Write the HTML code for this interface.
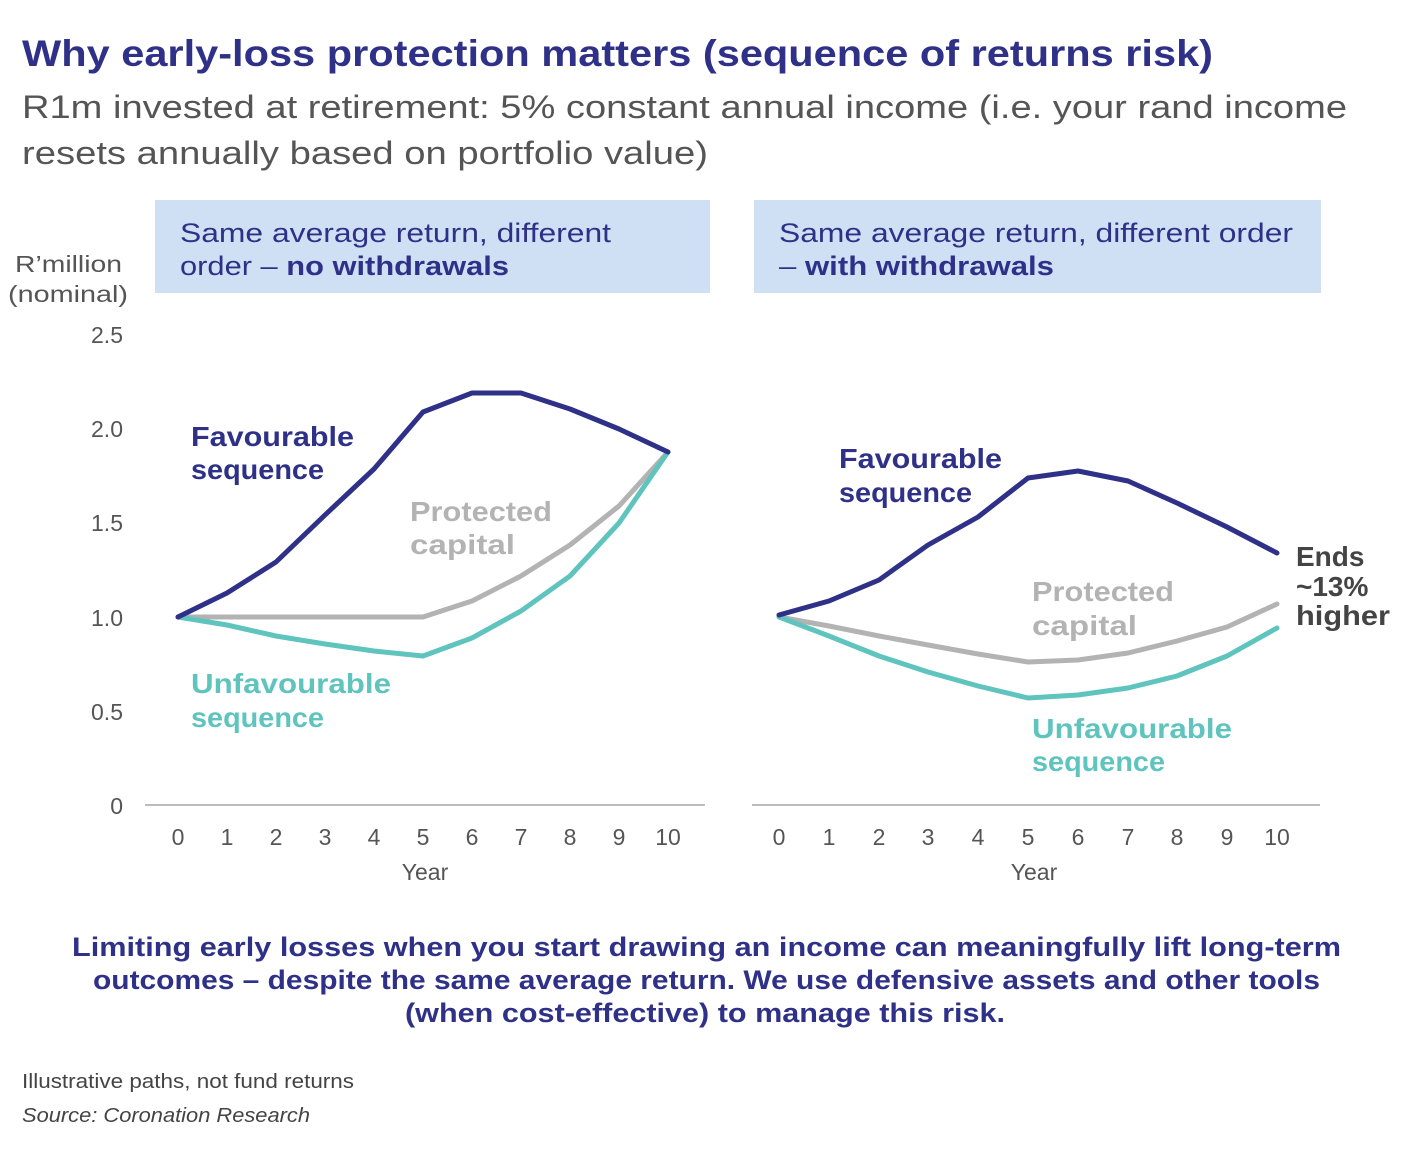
<!DOCTYPE html>
<html><head><meta charset="utf-8"><style>
body{margin:0;background:#fff;width:1416px;height:1160px;overflow:hidden;font-family:"Liberation Sans",sans-serif;}
</style></head><body>
<svg width="1416" height="1160" xmlns="http://www.w3.org/2000/svg" font-family="Liberation Sans, sans-serif">
<text x="22" y="66" font-size="37" font-weight="bold" fill="#2e3187" textLength="1191" lengthAdjust="spacingAndGlyphs">Why early-loss protection matters (sequence of returns risk)</text>
<text x="22" y="118" font-size="32" fill="#555" textLength="1325" lengthAdjust="spacingAndGlyphs">R1m invested at retirement: 5% constant annual income (i.e. your rand income</text>
<text x="22" y="164" font-size="32" fill="#555" textLength="686" lengthAdjust="spacingAndGlyphs">resets annually based on portfolio value)</text>
<rect x="155" y="200" width="555" height="93" fill="#cfe0f5"/>
<rect x="754" y="200" width="567" height="93" fill="#cfe0f5"/>
<g font-size="27" fill="#2e3187">
<text x="180" y="242" textLength="431" lengthAdjust="spacingAndGlyphs">Same average return, different</text>
<text x="180" y="275" textLength="329" lengthAdjust="spacingAndGlyphs">order – <tspan font-weight="bold">no withdrawals</tspan></text>
<text x="779" y="242" textLength="514" lengthAdjust="spacingAndGlyphs">Same average return, different order</text>
<text x="779" y="275" textLength="275" lengthAdjust="spacingAndGlyphs">– <tspan font-weight="bold">with withdrawals</tspan></text>
</g>
<g font-size="23" fill="#555">
<text x="15" y="272" textLength="107" lengthAdjust="spacingAndGlyphs">R’million</text>
<text x="8" y="302" textLength="120" lengthAdjust="spacingAndGlyphs">(nominal)</text>
<text x="123" y="343" text-anchor="end">2.5</text>
<text x="123" y="437" text-anchor="end">2.0</text>
<text x="123" y="531" text-anchor="end">1.5</text>
<text x="123" y="626" text-anchor="end">1.0</text>
<text x="123" y="720" text-anchor="end">0.5</text>
<text x="123" y="814" text-anchor="end">0</text>
</g>
<line x1="145" y1="805" x2="705" y2="805" stroke="#bbb" stroke-width="2"/>
<line x1="752" y1="805" x2="1320" y2="805" stroke="#bbb" stroke-width="2"/>
<g font-size="23" fill="#555" text-anchor="middle">
<text x="178" y="845">0</text><text x="227" y="845">1</text><text x="276" y="845">2</text><text x="325" y="845">3</text><text x="374" y="845">4</text><text x="423" y="845">5</text><text x="472" y="845">6</text><text x="521" y="845">7</text><text x="570" y="845">8</text><text x="619" y="845">9</text><text x="668" y="845">10</text>
<text x="425" y="880">Year</text>
<text x="779" y="845">0</text><text x="829" y="845">1</text><text x="879" y="845">2</text><text x="928" y="845">3</text><text x="978" y="845">4</text><text x="1028" y="845">5</text><text x="1078" y="845">6</text><text x="1128" y="845">7</text><text x="1177" y="845">8</text><text x="1227" y="845">9</text><text x="1277" y="845">10</text>
<text x="1034" y="880">Year</text>
</g>
<g fill="none" stroke-width="5" stroke-linejoin="round" stroke-linecap="round">
<polyline stroke="#b3b3b3" points="178,617 227,617 276,617 325,617 374,617 423,617 472,601 521,576 570,545 619,506 668,452"/>
<polyline stroke="#5ec4bd" points="178,617 227,625 276,636 325,644 374,651 423,656 472,638 521,611 570,576 619,523 668,452"/>
<polyline stroke="#2e3187" points="178,617 227,593 276,562 325,515 374,469 423,412 472,393 521,393 570,409 619,429 668,452"/>
<polyline stroke="#b3b3b3" points="779,617 829,626 879,636 928,645 978,654 1028,662 1078,660 1128,653 1177,641 1227,627 1277,604"/>
<polyline stroke="#5ec4bd" points="779,617 829,636 879,656 928,672 978,686 1028,698 1078,695 1128,688 1177,676 1227,656 1277,628"/>
<polyline stroke="#2e3187" points="779,615 829,601 879,580 928,545 978,517 1028,478 1078,471 1128,481 1177,503 1227,527 1277,553"/>
</g>
<g font-size="28" font-weight="bold">
<text x="191" y="446" fill="#2e3187" textLength="163" lengthAdjust="spacingAndGlyphs">Favourable</text>
<text x="191" y="479" fill="#2e3187" textLength="133" lengthAdjust="spacingAndGlyphs">sequence</text>
<text x="410" y="521" fill="#b3b3b3" textLength="142" lengthAdjust="spacingAndGlyphs">Protected</text>
<text x="410" y="554" fill="#b3b3b3" textLength="105" lengthAdjust="spacingAndGlyphs">capital</text>
<text x="191" y="693" fill="#5ec4bd" textLength="200" lengthAdjust="spacingAndGlyphs">Unfavourable</text>
<text x="191" y="727" fill="#5ec4bd" textLength="133" lengthAdjust="spacingAndGlyphs">sequence</text>
<text x="839" y="468" fill="#2e3187" textLength="163" lengthAdjust="spacingAndGlyphs">Favourable</text>
<text x="839" y="502" fill="#2e3187" textLength="133" lengthAdjust="spacingAndGlyphs">sequence</text>
<text x="1032" y="601" fill="#b3b3b3" textLength="142" lengthAdjust="spacingAndGlyphs">Protected</text>
<text x="1032" y="635" fill="#b3b3b3" textLength="105" lengthAdjust="spacingAndGlyphs">capital</text>
<text x="1032" y="738" fill="#5ec4bd" textLength="200" lengthAdjust="spacingAndGlyphs">Unfavourable</text>
<text x="1032" y="771" fill="#5ec4bd" textLength="133" lengthAdjust="spacingAndGlyphs">sequence</text>
<text x="1296" y="566" fill="#444">Ends</text>
<text x="1296" y="596" fill="#444">~13%</text>
<text x="1296" y="625" fill="#444" textLength="94" lengthAdjust="spacingAndGlyphs">higher</text>
</g>
<g font-size="27" font-weight="bold" fill="#2e3187">
<text x="72" y="956" textLength="1269" lengthAdjust="spacingAndGlyphs">Limiting early losses when you start drawing an income can meaningfully lift long-term</text>
<text x="93" y="989" textLength="1227" lengthAdjust="spacingAndGlyphs">outcomes – despite the same average return. We use defensive assets and other tools</text>
<text x="405" y="1022" textLength="600" lengthAdjust="spacingAndGlyphs">(when cost-effective) to manage this risk.</text>
</g>
<text x="22" y="1088" font-size="20" fill="#444" textLength="332" lengthAdjust="spacingAndGlyphs">Illustrative paths, not fund returns</text>
<text x="22" y="1122" font-size="20" font-style="italic" fill="#444" textLength="288" lengthAdjust="spacingAndGlyphs">Source: Coronation Research</text>
</svg>
</body></html>
